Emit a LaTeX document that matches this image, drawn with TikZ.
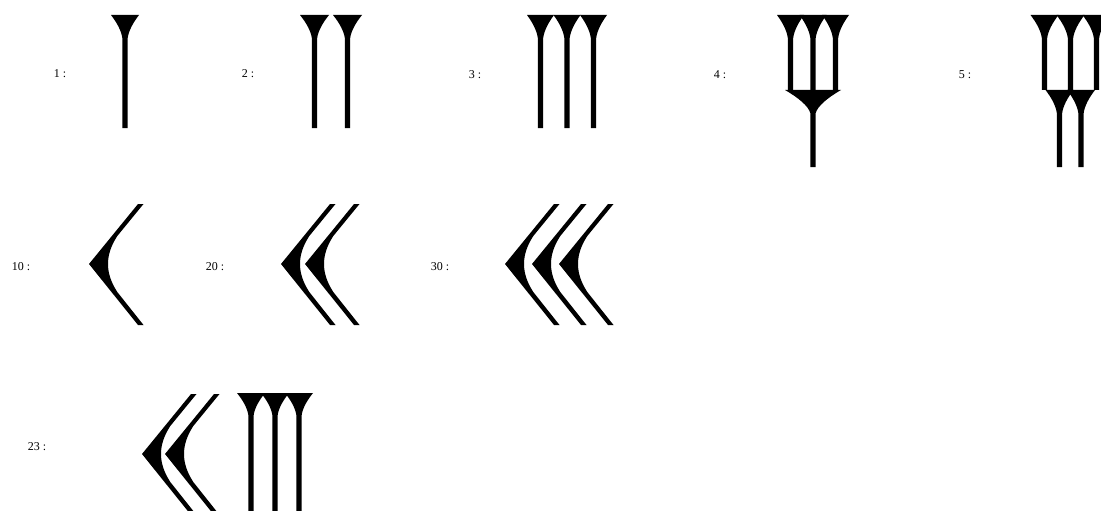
\documentclass[tikz,border=0pt]{standalone}
\usepackage{fontspec}
\setmainfont{Liberation Serif}
\begin{document}
\begin{tikzpicture}[x=1pt,y=-1pt,
  lbl/.style={font=\fontsize{12}{12}\selectfont, inner sep=0pt, anchor=center},
  glyph/.style={fill=black}]
\useasboundingbox (0,0) rectangle (1101,511);
\clip (0,0) rectangle (1101,511);
% vertical wedge: x, ytop, halfwidth, head depth, total length
\newcommand{\wedgeV}[5]{%
  \fill[glyph] ({#1-#3},#2) -- ({#1+#3},#2)
    .. controls ({#1+2.7+0.45*(#3-2.7)},{#2+0.35*#4}) and ({#1+2.7+0.08*(#3-2.7)},{#2+0.7*#4}) .. ({#1+2.7},{#2+#4})
    -- ({#1+2.7},{#2+#5}) -- ({#1-2.7},{#2+#5}) -- ({#1-2.7},{#2+#4})
    .. controls ({#1-2.7-0.08*(#3-2.7)},{#2+0.7*#4}) and ({#1-2.7-0.45*(#3-2.7)},{#2+0.35*#4}) .. ({#1-#3},#2) -- cycle;}
% chevron (Winkelhaken): tip x, tip y
\newcommand{\chev}[2]{%
  \begin{scope}[shift={(#1,#2)}]
  \fill[glyph] (0,0) -- (49,-60) -- (54.5,-60) -- (28.3,-28)
    .. controls (22.5,-19) and (19,-10) .. (19,0)
    .. controls (19,10) and (22.5,19) .. (28.3,28)
    -- (54.5,61) -- (49,61) -- cycle;
  \end{scope}}
% labels
\node[lbl] (l1) at (60,74) {1 :};
\node[lbl] (l2) at (248,74) {2 :};
\node[lbl] (l3) at (475,75) {3 :};
\node[lbl] (l4) at (720,75) {4 :};
\node[lbl] (l5) at (965,75) {5 :};
\node[lbl] (l10) at (21,267) {10 :};
\node[lbl] (l20) at (215,267) {20 :};
\node[lbl] (l30) at (440,267) {30 :};
\node[lbl] (l23) at (37,447) {23 :};
% 1
\wedgeV{125}{15}{14}{23}{113}
% 2
\wedgeV{314.5}{15}{14.5}{23}{113}
\wedgeV{347.5}{15}{14.5}{23}{113}
% 3
\wedgeV{540.5}{15}{13.5}{23}{113}
\wedgeV{567}{15}{13.5}{23}{113}
\wedgeV{593.5}{15}{13.5}{23}{113}
% 4
\wedgeV{790.5}{15}{13.5}{23}{75}
\wedgeV{813}{15}{13.5}{23}{75}
\wedgeV{835.5}{15}{13.5}{23}{75}
\wedgeV{813}{90}{28}{23}{77}
% 5
\wedgeV{1044.5}{15}{14}{23}{75}
\wedgeV{1070.5}{15}{14}{23}{75}
\wedgeV{1096.5}{15}{14}{23}{75}
\wedgeV{1059.5}{90}{14}{23}{77}
\wedgeV{1081}{90}{14}{23}{77}
% 10, 20, 30
\chev{89}{264}
\chev{281}{264}
\chev{305}{264}
\chev{505}{264}
\chev{532}{264}
\chev{559}{264}
% 23
\chev{142}{454}
\chev{165}{454}
\wedgeV{251}{393}{14}{22}{120}
\wedgeV{275}{393}{14}{22}{120}
\wedgeV{299}{393}{14}{22}{120}
\end{tikzpicture}
\end{document}
